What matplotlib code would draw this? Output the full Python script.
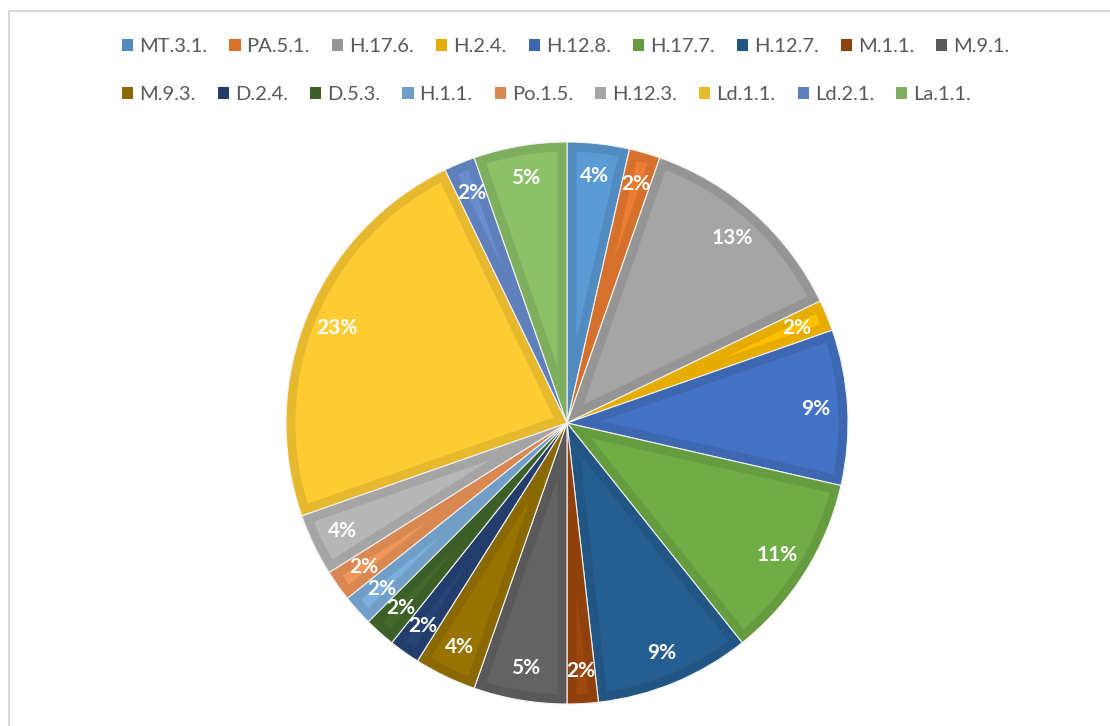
import numpy as np
import matplotlib.pyplot as plt
from matplotlib.patches import Polygon, Rectangle
from matplotlib.lines import Line2D
import matplotlib.colors as mcolors

# ===============================
# Data
# ===============================
labels = ["MT.3.1.", "PA.5.1.", "H.17.6.", "H.2.4.", "H.12.8.", "H.17.7.",
          "H.12.7.", "M.1.1.", "M.9.1.", "M.9.3.", "D.2.4.", "D.5.3.",
          "H.1.1.", "Po.1.5.", "H.12.3.", "Ld.1.1.", "Ld.2.1.", "La.1.1."]
counts = [2, 1, 7, 1, 5, 6, 5, 1, 3, 2, 1, 1, 1, 1, 2, 13, 1, 3]

colors = ["#5B9BD5", "#ED7D31", "#A5A5A5", "#FFC000", "#4472C4", "#70AD47",
          "#255E91", "#9E480E", "#636363", "#997300", "#264478", "#43682B",
          "#7CAFDD", "#F1975A", "#B7B7B7", "#FFCD33", "#698ED0", "#8CC168"]

plt.rcParams["font.family"] = ["Lato", "DejaVu Sans"]


def darker(c, f=0.9):
    r, g, b = mcolors.to_rgb(c)
    return (r * f, g * f, b * f)


border_cols = [darker(c) for c in colors]

# ===============================
# Figure / axes
# ===============================
W, H = 1110, 726
fig = plt.figure(figsize=(W / 100, H / 100), dpi=100)

# chart frame (light gray, runs off right/bottom)
fig.add_artist(Line2D([8.5 / W, 1.0], [1 - 10.5 / H, 1 - 10.5 / H],
                      transform=fig.transFigure, color="#D9D9D9", lw=1.5))
fig.add_artist(Line2D([8.5 / W, 8.5 / W], [0, 1 - 10.5 / H],
                      transform=fig.transFigure, color="#D9D9D9", lw=1.5))

R_px = 281
cx, cy = 567, H - 423
half = 1.05 * R_px
ax = fig.add_axes([(cx - half) / W, (cy - half) / H, 2 * half / W, 2 * half / H])

wedges, _ = ax.pie(counts, colors=border_cols, startangle=90, counterclock=False,
                   radius=1.0, wedgeprops=dict(linewidth=0.8, edgecolor="#F2F2F2"))

# inner lighter fill, inset from each wedge edge
d = 9.5 / R_px
for w, c in zip(wedges, colors):
    t1, t2 = np.radians(w.theta1), np.radians(w.theta2)
    hh = (t2 - t1) / 2
    mid = (t1 + t2) / 2
    shift = d / np.sin(hh) if hh < np.pi / 2 else 0
    apex = (shift * np.cos(mid), shift * np.sin(mid))
    ro = 1.0 - d
    off = np.arcsin(d / ro)
    a1, a2 = t1 + off, t2 - off
    if a2 <= a1 or shift >= ro:
        continue
    angs = np.linspace(a1, a2, 60)
    pts = [apex] + [(ro * np.cos(a), ro * np.sin(a)) for a in angs]
    ax.add_patch(Polygon(pts, closed=True, facecolor=c, edgecolor="none"))

# percentage labels (Excel style rounding, half up)
total = sum(counts)
for w, n in zip(wedges, counts):
    mid = np.radians((w.theta1 + w.theta2) / 2)
    pct = int(np.floor(100 * n / total + 0.5))
    ax.text(0.885 * np.cos(mid), 0.885 * np.sin(mid), f"{pct}%",
            ha="center", va="center", color="white", fontsize=15, fontweight="bold")

ax.set_xlim(-1.05, 1.05)
ax.set_ylim(-1.05, 1.05)
ax.axis("off")

# ===============================
# Legend (two rows, flowing)
# ===============================
handles = [Rectangle((0, 0), 1, 1, facecolor=c) for c in border_cols]
for row, ypos in [(0, 1 - 47 / H), (1, 1 - 95 / H)]:
    idx = range(row * 9, row * 9 + 9)
    leg = fig.legend([handles[i] for i in idx], [labels[i] for i in idx],
                     loc="center left", bbox_to_anchor=(114 / W, ypos), ncol=9,
                     frameon=False, fontsize=14.5, handlelength=0.55, handleheight=0.55,
                     handletextpad=0.3, columnspacing=1.1, borderaxespad=0)
    for t in leg.get_texts():
        t.set_color("#595959")

fig.savefig("out.png", dpi=100)
